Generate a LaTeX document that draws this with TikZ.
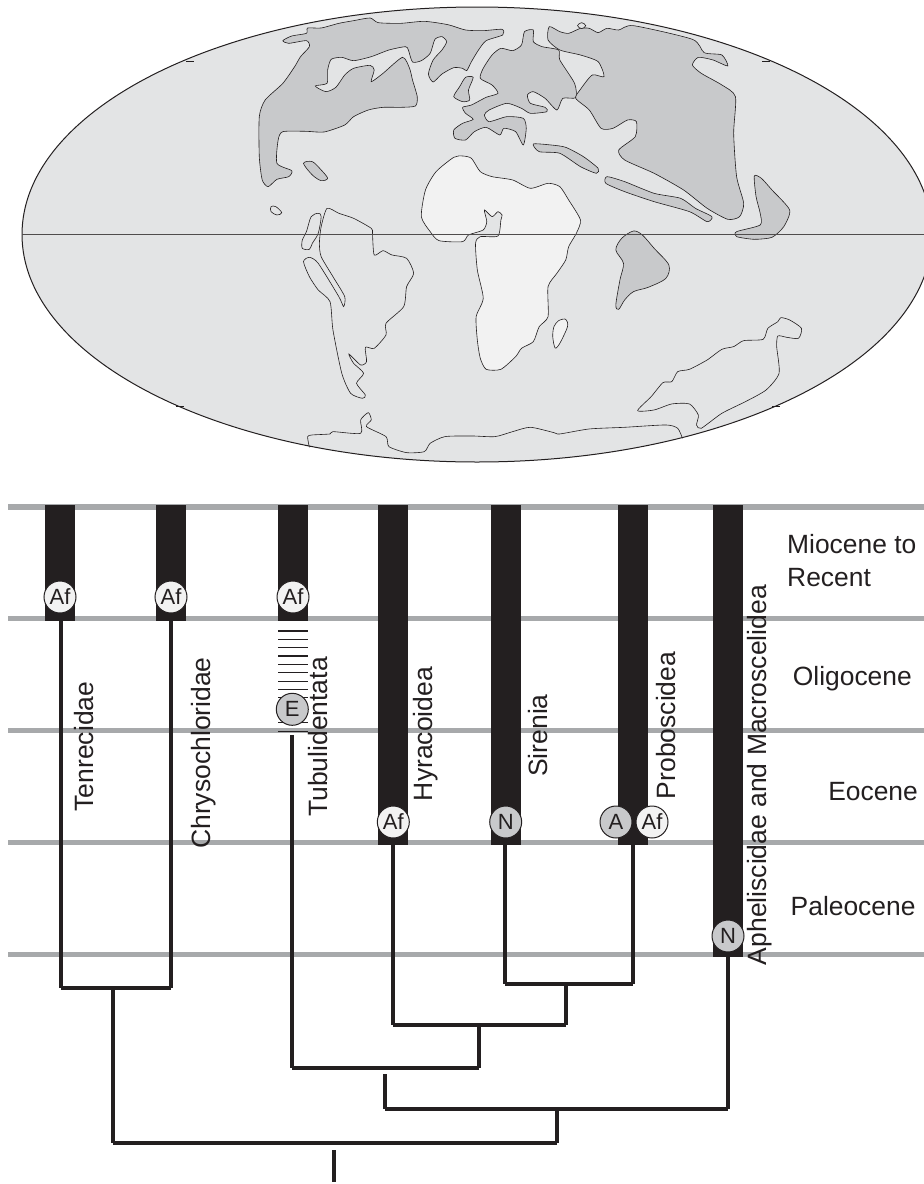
\documentclass[tikz,border=0pt]{standalone}
\usepackage{fontspec}
\setmainfont{Liberation Sans}
\usetikzlibrary{positioning,calc}
\definecolor{oceangray}{HTML}{E3E4E5}
\definecolor{landgray}{HTML}{C8C9CB}
\definecolor{afrogray}{HTML}{F2F2F2}
\definecolor{bandgray}{HTML}{A7A9AB}
\definecolor{barblack}{HTML}{231F20}
\tikzset{
    coast/.style={draw=barblack, line width=0.6pt},
    land/.style={coast, fill=landgray},
    band/.style={bandgray, line width=5.5pt},
    taxonbar/.style={fill=barblack},
    branch/.style={draw=barblack, line width=3.7pt, line cap=square},
    areamark/.style={circle, draw=barblack, line width=1pt, minimum size=32pt, inner sep=0pt, text=barblack, font=\fontsize{22}{24}\selectfont},
    taxon/.style={rotate=90, anchor=base, text=barblack, font=\fontsize{26.5}{30}\selectfont},
    epoch/.style={text=barblack, inner sep=0pt, font=\fontsize{26.4}{33}\selectfont, align=left}
}
\begin{document}
\begin{tikzpicture}[x=1pt,y=-1pt]
    \useasboundingbox (0,0) rectangle (924,1184);

    % Globe
    \begin{scope}
    \clip (0,0) rectangle (924,1184);
    \draw[barblack, fill=oceangray, line width=1pt] (477,234.5) ellipse [x radius=455, y radius=227.5];
    \draw[coast] (186,61) -- (194,61);
    \draw[coast] (762,61) -- (770,61);
    \draw[coast] (176,406) -- (184,406);
    \draw[coast] (772,406) -- (780,406);

    \begin{scope}[xscale=0.5893,yscale=0.3333]
    % Northern land
    \draw[land] plot[smooth cycle, tension=0.4] coordinates {(480,122) (495,108) (520,100) (522,84) (545,84) (575,70) (600,62) (628,54) (642,68) (680,70) (720,64) (760,74) (790,90) (820,92) (852,88) (853,105) (825,122) (812,150) (800,185) (792,212) (785,205) (770,203) (750,222) (735,246) (727,222) (735,180) (750,150) (758,125) (750,110) (738,118) (730,160) (715,182) (700,186) (693,150) (688,140) (660,150) (630,170) (600,182) (580,172) (562,178) (556,210) (555,250) (535,258) (553,275) (570,262) (585,225) (600,205) (628,196) (635,210) (630,245) (650,220) (683,172) (695,205) (700,240) (708,290) (705,318) (680,322) (650,322) (625,330) (600,350) (585,375) (550,396) (520,394) (480,395) (472,420) (470,490) (495,512) (490,530) (470,538) (455,560) (445,540) (440,470) (440,350) (450,300) (480,250) (500,200) (510,170) (525,140) (520,122) (490,130)};
    \draw[land] plot[smooth cycle, tension=0.4] coordinates {(790,232) (803,232) (795,270) (797,300) (785,305) (770,290) (780,260)};
    \draw[land] plot[smooth cycle, tension=0.4] coordinates {(905,90) (890,95) (885,135) (870,152) (850,145) (835,165) (820,205) (815,235) (835,255) (845,280) (825,292) (800,315) (785,322) (790,340) (803,358) (785,370) (770,390) (772,415) (790,420) (805,395) (825,382) (848,405) (855,385) (875,395) (888,435) (893,385) (888,355) (860,350) (830,365) (822,345) (830,330) (860,310) (885,325) (900,340) (928,335) (925,322) (900,310) (895,285) (905,275) (925,295) (945,330) (955,295) (977,293) (975,250) (950,180) (948,150) (920,140) (905,125)};
    \draw[land] plot[smooth cycle, tension=0.4] coordinates {(932,80) (930,120) (950,150) (985,165) (1015,185) (1025,230) (1005,225) (985,268) (977,295) (1000,330) (1020,385) (1040,385) (1065,360) (1080,365) (1078,410) (1050,450) (1060,480) (1110,520) (1160,570) (1200,625) (1235,658) (1255,650) (1262,610) (1250,530) (1245,400) (1248,290) (1225,255) (1190,220) (1175,195) (1185,172) (1210,180) (1235,198) (1225,165) (1195,158) (1175,118) (1075,77) (1050,90) (1030,85) (1015,98) (1000,85) (985,85) (965,100) (950,95)};
    \draw[coast, fill=oceangray] plot[smooth cycle, tension=0.6] coordinates {(987,68) (994,77) (987,86) (980,77)};
    \draw[land] plot[smooth cycle, tension=0.5] coordinates {(515,490) (530,485) (545,510) (556,535) (545,542) (530,525)};
    \draw[land] plot[smooth cycle, tension=0.4] coordinates {(905,432) (935,435) (960,442) (990,470) (1015,505) (1012,520) (985,500) (950,460) (915,455)};
    \draw[land] plot[smooth cycle, tension=0.4] coordinates {(1030,530) (1060,545) (1110,580) (1155,595) (1180,625) (1208,650) (1200,665) (1170,635) (1110,605) (1060,575) (1028,550)};
    \draw[land] plot[smooth cycle, tension=0.4] coordinates {(1280,528) (1292,535) (1310,570) (1340,630) (1330,680) (1310,712) (1280,718) (1250,710) (1250,695) (1290,675) (1290,640) (1283,590)};
    \draw[land] plot[smooth cycle, tension=0.5] coordinates {(1075,693) (1090,705) (1110,745) (1135,795) (1130,835) (1100,862) (1075,875) (1060,900) (1050,928) (1045,915) (1052,840) (1058,790) (1045,750) (1055,715)};

    % Africa
    \draw[coast, fill=afrogray] plot[smooth cycle, tension=0.4] coordinates {(785,468) (800,475) (815,515) (835,530) (870,540) (900,565) (930,550) (950,560) (965,600) (985,660) (978,700) (965,740) (960,780) (945,820) (930,860) (930,950) (915,980) (905,1025) (885,1045) (875,1070) (850,1108) (825,1108) (815,1075) (810,1020) (808,950) (820,895) (810,810) (807,730) (815,710) (845,708) (850,660) (852,645) (845,635) (835,650) (822,630) (826,665) (820,690) (795,705) (785,725) (745,722) (730,695) (715,650) (722,570) (740,515) (770,472)};
    \draw[coast, fill=afrogray] plot[smooth cycle, tension=0.5] coordinates {(948,962) (960,958) (963,980) (950,1030) (942,1044) (938,1010) (940,980)};

    % South America
    \draw[coast] plot[smooth cycle, tension=0.4] coordinates {(555,625) (545,680) (542,730) (545,770) (565,830) (585,890) (583,920) (575,890) (540,790) (525,772) (515,785) (525,830) (540,870) (560,905) (565,990) (580,1120) (595,1180) (615,1195) (620,1185) (605,1150) (617,1120) (600,1090) (592,1062) (612,1095) (622,1085) (620,1042) (635,1045) (655,1005) (655,970) (685,920) (690,860) (702,820) (690,775) (665,765) (650,752) (635,765) (632,700) (630,685) (600,655) (575,640)};
    \draw[coast] plot[smooth cycle, tension=0.5] coordinates {(528,650) (540,640) (545,650) (540,700) (530,730) (525,748) (513,745) (513,720) (520,695)};
    \draw[coast] plot[smooth cycle, tension=0.6] coordinates {(460,620) (468,620) (478,638) (470,645) (460,635)};

    % Southern land
    \draw[coast] plot[smooth cycle, tension=0.4] coordinates {(1325,953) (1340,960) (1360,985) (1355,1015) (1335,1012) (1320,1008) (1318,1040) (1322,1120) (1300,1170) (1265,1205) (1225,1240) (1190,1285) (1182,1275) (1185,1245) (1170,1212) (1140,1212) (1110,1230) (1082,1232) (1105,1190) (1125,1148) (1140,1145) (1150,1115) (1170,1108) (1200,1080) (1225,1048) (1245,1040) (1262,1022) (1295,1018) (1303,985) (1320,965)};
    \draw[coast] plot[smooth, tension=0.4] coordinates {(525,1342) (522,1310) (530,1305) (560,1302) (565,1295) (612,1300) (612,1260) (625,1238) (630,1260) (622,1280) (655,1310) (660,1340) (690,1358) (720,1355) (730,1330) (755,1310) (800,1308) (840,1310) (870,1295) (900,1282) (940,1298) (950,1302) (1000,1287) (1060,1282) (1130,1275) (1150,1285) (1158,1315)};
    \end{scope}

    % Equator
    \draw[barblack!80, line width=1pt] (22,234) -- (924,234);
    \end{scope}

    % Epoch bands
    \foreach \y in {507,618.5,730.5,842.5,954.5}
        \draw[band] (8,\y) -- (924,\y);

    % Taxon bars
    \fill[taxonbar] (45,505) rectangle (75,621);
    \fill[taxonbar] (156,505) rectangle (186,621);
    \fill[taxonbar] (278,505) rectangle (308,621);
    \fill[taxonbar] (378,505) rectangle (408,845);
    \fill[taxonbar] (491,505) rectangle (521,845);
    \fill[taxonbar] (618,505) rectangle (648,845);
    \fill[taxonbar] (713,505) rectangle (743,957);

    % Uncertain range
    \foreach \i in {0,...,12}
        \draw[barblack, line width=1.2pt] (278,{631+8.35*\i}) -- (308,{631+8.35*\i});

    % Tips and splits
    \coordinate (tenrec) at (60.7,621);
    \coordinate (chryso) at (171,621);
    \coordinate (tubuli) at (292.3,735);
    \coordinate (hyrax) at (393.3,843);
    \coordinate (siren) at (505,843);
    \coordinate (probo) at (633.3,843);
    \coordinate (aphel) at (728.3,955);
    \coordinate (sirprobo) at (565.7,984.3);
    \coordinate (paen) at (479,1025.3);
    \coordinate (tubpaen) at (385,1068.3);
    \coordinate (tubpaenstem) at (385,1074);
    \coordinate (afrobase) at (556.7,1109.3);
    \coordinate (tenchry) at (113,988);
    \coordinate (rootsplit) at (334.3,1143.3);
    \coordinate (rootstem) at (334.3,1150);
    \coordinate (rootend) at (334.3,1182);

    % Tree
    \foreach \a/\b/\s in {tenrec/chryso/tenchry, siren/probo/sirprobo, hyrax/sirprobo/paen, tubuli/paen/tubpaen, tubpaenstem/aphel/afrobase, tenchry/afrobase/rootsplit} {
        \draw[branch] (\a) -- (\a |- \s);
        \draw[branch] (\b) -- (\b |- \s);
        \draw[branch] (\a |- \s) -- (\b |- \s);
    }
    \draw[branch] (rootstem) -- (rootend);

    % Area marks
    \node[areamark, fill=afrogray] (afTenrec) at (60,597) {Af};
    \node[areamark, fill=afrogray] (afChryso) at (171,597) {Af};
    \node[areamark, fill=afrogray] (afTubuli) at (293,597) {Af};
    \node[areamark, fill=landgray] (eTubuli) at (292.3,709.3) {E};
    \node[areamark, fill=afrogray] (afHyrax) at (393.3,822) {Af};
    \node[areamark, fill=landgray] (nSiren) at (505.7,822) {N};
    \node[areamark, fill=landgray] (aProbo) at (616,822) {A};
    \node[areamark, fill=afrogray] (afProbo) at (652,822) {Af};
    \node[areamark, fill=landgray] (nAphel) at (728,936) {N};

    % Taxon labels
    \node[taxon] (lblTenrec) at (93.3,746.5) {Tenrecidae};
    \node[taxon] (lblChryso) at (210,753) {Chrysochloridae};
    \node[taxon] (lblTubuli) at (327.7,737) {Tubulidentata};
    \node[taxon] (lblHyrax) at (432,734) {Hyracoidea};
    \node[taxon] (lblSiren) at (547,735.5) {Sirenia};
    \node[taxon] (lblProbo) at (675,725.5) {Proboscidea};
    \node[taxon] (lblAphel) at (766.7,775) {Apheliscidae and Macroscelidea};

    % Epoch labels
    \node[epoch, anchor=base west] (lblMiocene) at (787,586) {Miocene to\\Recent};
    \node[epoch, anchor=base east] (lblOligo) at (912,685) {Oligocene};
    \node[epoch, anchor=base east] (lblEo) at (918,800.7) {Eocene};
    \node[epoch, anchor=base east] (lblPaleo) at (915.7,915) {Paleocene};
\end{tikzpicture}
\end{document}
